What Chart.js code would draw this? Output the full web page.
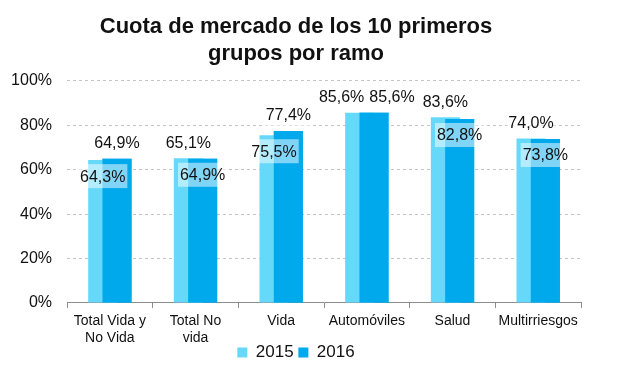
<!DOCTYPE html>
<html>
<head>
<meta charset="utf-8">
<script src="https://cdn.jsdelivr.net/npm/chart.js@4"></script>
<style>
  html, body { margin: 0; padding: 0; background: #fff; }
  #wrap { width: 620px; height: 368px; }
</style>
</head>
<body>
<div id="wrap"><canvas id="chart" width="620" height="368"></canvas></div>
<script>
const categories = [['Total Vida y', 'No Vida'], ['Total No', 'vida'], 'Vida', 'Automóviles', 'Salud', 'Multirriesgos'];
const values2015 = [64.3, 65.1, 75.5, 85.6, 83.6, 74.0];
const values2016 = [64.9, 64.9, 77.4, 85.6, 82.8, 73.8];
const seriesNames = ['2015', '2016'];
const yTicks = [0, 20, 40, 60, 80, 100];

const fontFamily = '"Liberation Sans", Arial, sans-serif';

function fmt(v) {
  return v.toFixed(1).replace('.', ',') + '%';
}

// 2016 sits on top of 2015, and the value labels are drawn by hand
const overlapLabels = {
  id: 'overlapLabels',
  afterDatasetsDraw(chart) {
    const ctx = chart.ctx;
    chart.getDatasetMeta(1).controller.draw();

    const m0 = chart.getDatasetMeta(0).data;
    const m1 = chart.getDatasetMeta(1).data;
    const sets = [values2015, values2016];
    ctx.save();
    ctx.font = '16px ' + fontFamily;
    ctx.textAlign = 'center';
    ctx.textBaseline = 'middle';
    for (let i = 0; i < categories.length; i++) {
      const a = values2015[i], b = values2016[i];
      const bars = [m0[i], m1[i]];
      const xs = [bars[0].x, bars[1].x];
      const above = [a >= b, b >= a];
      if (above[0] && above[1]) {
        // both on top: push them apart
        const mid = (xs[0] + xs[1]) / 2;
        const w0 = ctx.measureText(fmt(a)).width;
        const w1 = ctx.measureText(fmt(b)).width;
        xs[0] = mid - 2.5 - w0 / 2;
        xs[1] = mid + 2.5 + w1 / 2;
      }
      for (let d = 0; d < 2; d++) {
        const txt = fmt(sets[d][i]);
        const y = above[d] ? bars[d].y - 16 : bars[d].y + 16;
        const w = ctx.measureText(txt).width;
        ctx.fillStyle = 'rgba(255,255,255,0.5)';
        ctx.fillRect(xs[d] - w / 2 - 2, y - 12, w + 4, 24);
        ctx.fillStyle = '#111';
        ctx.fillText(txt, xs[d], y + 1);
      }
    }
    ctx.restore();
  }
};

new Chart(document.getElementById('chart').getContext('2d'), {
  type: 'bar',
  data: {
    labels: categories,
    datasets: [
      {
        label: seriesNames[0],
        data: values2015,
        backgroundColor: '#66D9FA'
      },
      {
        label: seriesNames[1],
        data: values2016,
        backgroundColor: '#00A9EC'
      }
    ]
  },
  options: {
    responsive: false,
    animation: false,
    categoryPercentage: 0.334,
    barPercentage: 2.03,
    layout: { padding: { left: 11, right: 39, top: 0, bottom: -3 } },
    plugins: {
      title: {
        display: true,
        text: ['Cuota de mercado de los 10 primeros', 'grupos por ramo'],
        color: '#111',
        font: { family: fontFamily, size: 22, weight: 'bold', lineHeight: 1.2 },
        padding: { top: 14, bottom: 14 }
      },
      legend: {
        position: 'bottom',
        labels: {
          boxWidth: 10,
          boxHeight: 10,
          padding: 0,
          color: '#111',
          font: { family: fontFamily, size: 17 },
          // small gap between the two entries
          generateLabels(chart) {
            const items = Chart.defaults.plugins.legend.labels.generateLabels(chart);
            items.forEach((it, i) => { if (i < items.length - 1) it.text += ' '; });
            return items;
          }
        }
      },
      tooltip: { enabled: false }
    },
    scales: {
      x: {
        grid: {
          display: true,
          drawOnChartArea: false,
          drawTicks: true,
          tickLength: 5,
          offset: true,
          color: '#8C8C8C'
        },
        border: { display: true, color: '#8C8C8C' },
        ticks: {
          color: '#111',
          padding: 5,
          maxRotation: 0,
          autoSkip: false,
          font: { family: fontFamily, size: 14, lineHeight: 1.18 }
        },
        afterFit(scale) {
          scale.height -= 7;
        }
      },
      y: {
        min: yTicks[0],
        max: yTicks[yTicks.length - 1],
        afterBuildTicks(scale) {
          scale.ticks = yTicks.map(v => ({ value: v }));
        },
        afterFit(scale) {
          scale.width = 56;
        },
        grid: { color: '#C4C4C4', drawTicks: false },
        border: { display: false, dash: [3, 3] },
        ticks: {
          color: '#111',
          padding: 15,
          font: { family: fontFamily, size: 16 },
          callback: v => v + '%'
        }
      }
    }
  },
  plugins: [overlapLabels]
});
</script>
</body>
</html>
